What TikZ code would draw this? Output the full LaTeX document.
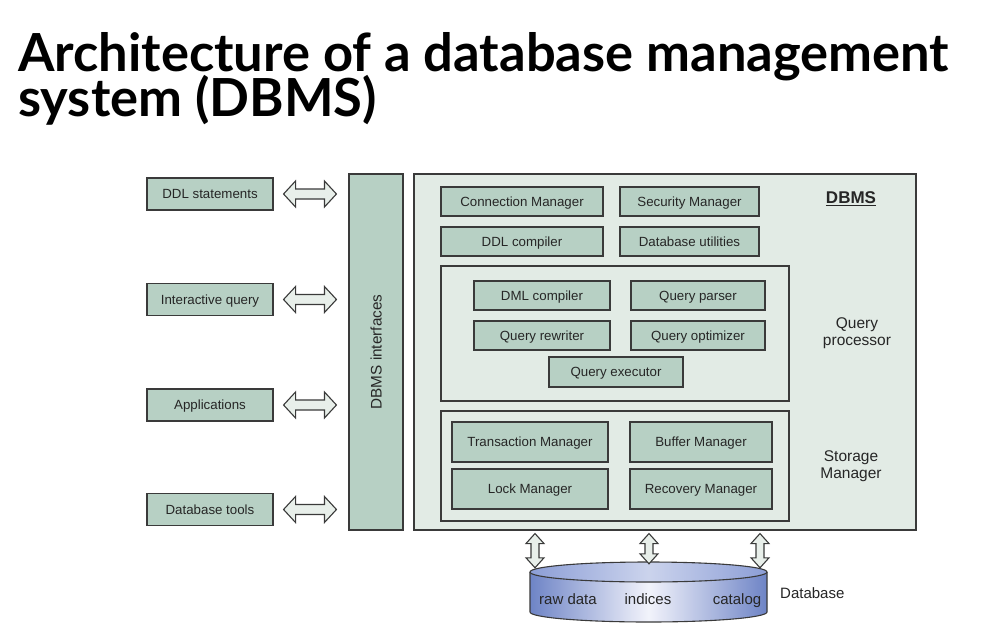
\documentclass[tikz,border=0pt]{standalone}
\usepackage{fontspec}
\setmainfont{Liberation Sans}
\newfontfamily\titlefont{Lato}
\usetikzlibrary{calc}
\definecolor{boxfill}{HTML}{B7D0C4}
\definecolor{bgfill}{HTML}{E2EBE5}
\definecolor{edge}{HTML}{3A3A3A}
\definecolor{arrfill}{HTML}{E8EFEA}
\definecolor{cylblue}{HTML}{6E84C6}
\definecolor{cyltop}{HTML}{8C9ED6}
\definecolor{cylmid}{HTML}{F2F3FB}
\tikzset{
  base/.style={draw=edge, line width=1.1pt, inner sep=0pt, font=\fontsize{13.3}{15}\selectfont, text=black!85, text height=9.5pt, text depth=0pt},
  box/.style={base, fill=boxfill, minimum width=#1},
  box/.default=136,
  frame/.style={draw=edge, line width=1.1pt, inner sep=0pt},
  lbl/.style={font=\fontsize{15.5}{17.5}\selectfont, align=center, text=black!85},
  cyltxt/.style={font=\fontsize{15}{17}\selectfont, text=black!85, inner sep=0pt, text height=10.8pt, text depth=0pt},
  ttl/.style={anchor=base west, inner sep=0pt, font=\titlefont\bfseries\fontsize{52.5}{52.5}\selectfont},
  dblarr/.style={draw=edge, line width=1.1pt, fill=arrfill, line join=miter},
}
\newcommand\harr[2]{%
  \draw[dblarr] let \p1=($(#1.east)+(10pt,0)$), \p2=($(#2.west |- #1.east)+(-12pt,0)$) in
   (\x1,\y1) -- (\x1+12pt,\y1+13pt) -- (\x1+12pt,\y1+5pt) -- (\x2-12pt,\y2+5pt)
   -- (\x2-12pt,\y2+13pt) -- (\x2,\y2) -- (\x2-12pt,\y2-13pt) -- (\x2-12pt,\y2-5pt)
   -- (\x1+12pt,\y1-5pt) -- (\x1+12pt,\y1-13pt) -- cycle;}
% #1 coordinate giving x, #2 top node, #3 bottom node, #4 bottom offset
\newcommand\varr[4]{%
  \draw[dblarr] let \p1=($(#1 |- #2.south)+(0,-3pt)$), \p2=($(#1 |- #3.north)+(0,#4)$) in
   (\x1,\y1) -- (\x1+9pt,\y1-10pt) -- (\x1+4pt,\y1-10pt) -- (\x2+4pt,\y2+10pt)
   -- (\x2+9pt,\y2+10pt) -- (\x2,\y2) -- (\x2-9pt,\y2+10pt) -- (\x2-4pt,\y2+10pt)
   -- (\x1-4pt,\y1-10pt) -- (\x1-9pt,\y1-10pt) -- cycle;}
\begin{document}
\begin{tikzpicture}[x=1pt,y=-1pt]
\useasboundingbox[fill=white] (0,0) rectangle (986,627);
% title
\node[ttl, text depth=0pt] (t1) at (18,71) {Architecture of a database management};
\node[ttl, text height=36pt] (t2) at (18,116) {system (DBMS)};
% left boxes
\node[box=126, minimum height=32] (ddl) at (210,194) {DDL statements};
\node[box=126, minimum height=32] (iq) at (210,299.5) {Interactive query};
\node[box=126, minimum height=32] (app) at (210,405) {Applications};
\node[box=126, minimum height=32] (dbt) at (210,509.5) {Database tools};
% interfaces
\node[box=54, minimum height=356] (iface) at (376,352) {};
\node[rotate=90, font=\fontsize{15.3}{17}\selectfont, text=black!85, inner sep=0pt, text height=11pt, text depth=0pt] (ifl) at (iface.center) {DBMS interfaces};
% DBMS frame
\node[frame, fill=bgfill, minimum width=502, minimum height=356] (dbms) at (665,352) {};
\node[font=\bfseries\fontsize{17}{19}\selectfont, text=black!85, inner sep=0pt] (dbmsl) at (851,199) {\underline{DBMS}};
\node[box=162, minimum height=29] (conn) at (522,201.5) {Connection Manager};
\node[box=139, minimum height=29] (sec) at (689.5,201.5) {Security Manager};
\node[box=162, minimum height=29] (ddlc) at (522,241.5) {DDL compiler};
\node[box=139, minimum height=29] (util) at (689.5,241.5) {Database utilities};
% query processor
\node[frame, minimum width=348, minimum height=135] (qp) at (615,333.5) {};
\node[box=136, minimum height=29] (dml) at (542,295.5) {DML compiler};
\node[box=134, minimum height=29] (qpar) at (698,295.5) {Query parser};
\node[box=136, minimum height=29] (qrw) at (542,335.5) {Query rewriter};
\node[box=134, minimum height=29] (qopt) at (698,335.5) {Query optimizer};
\node[box=134, minimum height=30] (qex) at (616,372) {Query executor};
\node[lbl] (qpl) at (857,333) {Query\\processor};
% storage manager
\node[frame, minimum width=348, minimum height=110] (sm) at (615,466) {};
\node[box=156, minimum height=40] (tm) at (530,442) {Transaction Manager};
\node[box=142, minimum height=40] (bm) at (701,442) {Buffer Manager};
\node[box=156, minimum height=40] (lm) at (530,489) {Lock Manager};
\node[box=142, minimum height=40] (rm) at (701,489) {Recovery Manager};
\node[lbl] (sml) at (851,466) {Storage\\Manager};
% database cylinder
\shade[left color=cylblue, right color=cylblue, middle color=cylmid]
  (530,572) -- (530,612) arc[start angle=180, end angle=360, x radius=118.5pt, y radius=10pt]
  -- (767,572) arc[start angle=0, end angle=180, x radius=118.5pt, y radius=10pt] -- cycle;
\shade[left color=cyltop, right color=cyltop, middle color=cyltop!45!white]
  (648.5,572) ellipse[x radius=118.5pt, y radius=10pt];
\draw[edge, line width=1.1pt]
  (530,572) -- (530,612) arc[start angle=180, end angle=360, x radius=118.5pt, y radius=10pt]
  -- (767,572);
\draw[edge, line width=1.1pt] (648.5,572) ellipse[x radius=118.5pt, y radius=10pt];
\node[inner sep=0pt, minimum width=237, minimum height=59] (db) at (648.5,592.5) {};
\node[cyltxt] (raw) at (568,599) {raw data};
\node[cyltxt] (ind) at (648,599) {indices};
\node[cyltxt] (cat) at (737,599) {catalog};
\node[cyltxt, anchor=west] (dbl) at (780,593) {Database};
% horizontal arrows
\harr{ddl}{iface}
\harr{iq}{iface}
\harr{app}{iface}
\harr{dbt}{iface}
% vertical arrows
\coordinate (v1) at (535,0);
\coordinate (v2) at (649,0);
\coordinate (v3) at (760,0);
\varr{v1}{dbms}{db}{-5pt}
\varr{v2}{dbms}{db}{-1pt}
\varr{v3}{dbms}{db}{-5pt}
\end{tikzpicture}
\end{document}
